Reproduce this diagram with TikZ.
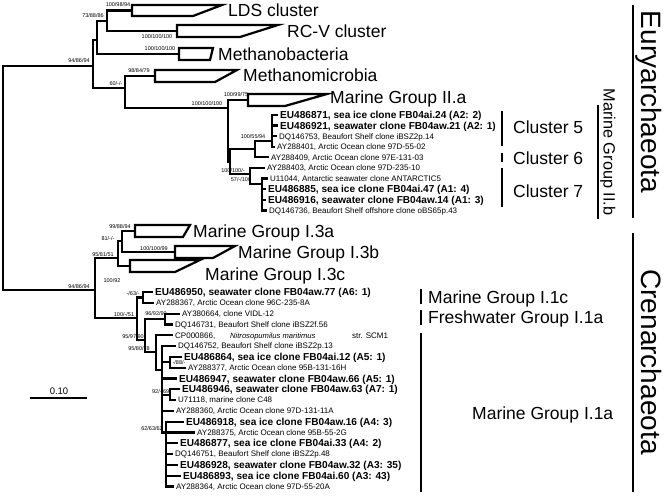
\documentclass[tikz,border=0pt]{standalone}
\usepackage{fontspec}
\setmainfont{Liberation Sans}
\newcommand\tleaf[6]{\draw[br] (#1,#3) -- (#2,#3); \node[#5] (#4) at ({#2+3},#3) {#6};}
\newcommand\tclade[5]{\draw[clade] (#1,#2) -- (#3,#2) -- (#4,#5) -- (#1,#5) -- cycle;}
\begin{document}
\begin{tikzpicture}[x=1pt,y=-1pt,
  br/.style={line width=2.2pt,line cap=rect},
  clade/.style={line width=2.2pt,line join=miter,fill=white},
  bs/.style={inner sep=0pt,font=\fontsize{5.5}{6}\selectfont,text height=4pt,text depth=0pt},
  sm/.style={anchor=west,inner sep=0pt,font=\fontsize{8}{9}\selectfont,text height=5.8pt,text depth=0pt},
  bd/.style={anchor=west,inner sep=0pt,font=\bfseries\fontsize{10.1}{11}\selectfont,text height=7.3pt,text depth=0pt},
  big/.style={anchor=west,inner sep=0pt,font=\fontsize{17.5}{19}\selectfont,text height=12.5pt,text depth=0pt},
  grp/.style={inner sep=0pt,rotate=-90,font=\fontsize{16.3}{18}\selectfont,text height=11.7pt,text depth=0pt},
  phyl/.style={inner sep=0pt,rotate=-90,font=\fontsize{28}{30}\selectfont,text height=20pt,text depth=0pt},
  bar/.style={line width=2.6pt},
]
\useasboundingbox (0,0) rectangle (666,497);
% ---------- Euryarchaeota ----------
\draw[br] (3,66) -- (3,290);
\draw[br] (3,66) -- (93,66);
\node[bs] (b1) at (79,61) {94/86/94};
\draw[br] (93,40) -- (93,88);
\draw[br] (93,40) -- (97,40);
\draw[br] (97,21) -- (97,54);
\draw[br] (97,21) -- (107,21);
\node[bs] (b2) at (93,16) {73/88/86};
\draw[br] (107,10.5) -- (107,31);
\draw[br] (107,10.5) -- (132,10.5);
\node[bs] (b3) at (118,5) {100/98/94};
\tclade{132}{5}{222}{193}{16}
\node[big] (lds) at (228,10) {LDS cluster};
\draw[br] (107,31) -- (177,31);
\node[bs] (b4) at (157,37) {100/100/100};
\tclade{177}{25}{278}{240}{37}
\node[big] (rcv) at (287,31) {RC-V cluster};
\draw[br] (97,54) -- (179,54);
\node[bs] (b5) at (160,49) {100/100/100};
\tclade{179}{48}{213}{210}{60}
\node[big] (mbac) at (218,54) {Methanobacteria};
\draw[br] (93,88) -- (125,88);
\node[bs] (b6) at (116,84) {60/-/-};
\draw[br] (125,76) -- (125,108);
\draw[br] (125,76) -- (155,76);
\node[bs] (b7) at (139,71) {98/84/79};
\tclade{155}{70}{237}{215}{82}
\node[big] (mmic) at (243,75) {Methanomicrobia};
\draw[br] (125,108) -- (228,108);
\node[bs] (b8) at (207,104) {100/100/100};
\draw[br] (228,100) -- (228,162);
\draw[br] (228,100) -- (248,100);
\node[bs] (b9) at (236,95) {100/99/75};
\tclade{248}{94}{327}{285}{106}
\node[big] (mg2a) at (330,97) {Marine Group II.a};
% MG II.b
\draw[br] (228,162) -- (230,162);
\draw[br] (230,149) -- (230,174);
\draw[br] (230,149) -- (255,149);
\draw[br] (255,141) -- (255,157.4);
\node[bs] (b10) at (253,137) {100/55/94};
\draw[br] (255,141) -- (272,141);
\draw[br] (272,115) -- (272,146.8);
\tleaf{272}{277}{115}{l1}{bd}{EU486871, sea ice clone FB04ai.24 (A2: 2)}
\tleaf{272}{277}{125.6}{l2}{bd}{EU486921, seawater clone FB04aw.21 (A2: 1)}
\tleaf{272}{276}{136.2}{l3}{sm}{DQ146753, Beaufort Shelf clone iBSZ2p.14}
\tleaf{272}{274}{146.8}{l4}{sm}{AY288401, Arctic Ocean clone 97D-55-02}
\tleaf{255}{268}{157.4}{l5}{sm}{AY288409, Arctic Ocean clone 97E-131-03}
\draw[br] (230,174) -- (250,174);
\node[bs] (b11) at (233,170) {100/100/-};
\draw[br] (250,168) -- (250,184);
\tleaf{250}{264}{168}{l6}{sm}{AY288403, Arctic Ocean clone 97D-235-10}
\draw[br] (250,184) -- (262,184);
\node[bs] (b12) at (241,180) {57/-/100};
\draw[br] (262,178.6) -- (262,210.4);
\tleaf{262}{267}{178.6}{l7}{sm}{U11044, Antarctic seawater clone ANTARCTIC5}
\tleaf{262}{265}{189.2}{l8}{bd}{EU486885, sea ice clone FB04ai.47 (A1: 4)}
\tleaf{262}{265}{199.8}{l9}{bd}{EU486916, seawater clone FB04aw.14 (A1: 3)}
\tleaf{262}{266}{210.4}{l10}{sm}{DQ146736, Beaufort Shelf offshore clone oBS65p.43}
\draw[bar] (502,111) -- (502,146);
\draw[bar] (502,153) -- (502,162);
\draw[bar] (502,168) -- (502,207);
\node[big] (c5) at (513,127) {Cluster 5};
\node[big] (c6) at (513,158) {Cluster 6};
\node[big] (c7) at (513,191) {Cluster 7};
\draw[bar] (598,105) -- (598,219);
\node[grp] (mg2b) at (609.5,152) {Marine Group II.b};
\draw[bar] (633,5) -- (633,218);
\node[phyl] (eury) at (651,102) {Euryarchaeota};
% ---------- Crenarchaeota ----------
\draw[br] (3,290) -- (95,290);
\node[bs] (b13) at (79,286) {94/86/94};
\draw[br] (95,258) -- (95,318);
\draw[br] (95,258) -- (118,258);
\node[bs] (b14) at (103,254) {95/81/51};
\draw[br] (118,241) -- (118,266);
\draw[br] (118,241) -- (122,241);
\node[bs] (b15) at (108,238) {81/-/-};
\draw[br] (122,231) -- (122,252);
\draw[br] (122,231) -- (135,231);
\node[bs] (b16) at (120,226) {99/88/94};
\tclade{135}{225}{190}{183}{237}
\node[big] (g3a) at (193,231) {Marine Group I.3a};
\draw[br] (122,252) -- (175,252);
\node[bs] (b17) at (154,248) {100/100/99};
\tclade{175}{246}{235}{213}{258}
\node[big] (g3b) at (238,252) {Marine Group I.3b};
\draw[br] (118,266) -- (130,266);
\node[bs] (b18) at (112,280) {100/92};
\tclade{130}{260}{200}{175}{272}
\node[big] (g3c) at (205,274) {Marine Group I.3c};
\draw[br] (95,318) -- (137,318);
\node[bs] (b19) at (124,314) {100/-/51};
\draw[br] (137,297.4) -- (137,340);
\draw[br] (137,297.4) -- (143,297.4);
\node[bs] (b20) at (133,293) {-/63/-};
\draw[br] (143,292) -- (143,302.8);
\tleaf{143}{152}{292}{c0}{bd}{EU486950, seawater clone FB04aw.77 (A6: 1)}
\tleaf{143}{153}{302.8}{c1}{sm}{AY288367, Arctic Ocean clone 96C-235-8A}
\draw[br] (137,340) -- (145,340);
\node[bs] (b21) at (133,336) {95/97/90};
\draw[br] (145,319) -- (145,352);
\draw[br] (145,319) -- (165,319);
\node[bs] (b22) at (156,313) {96/92/90};
\draw[br] (165,313.6) -- (165,324.4);
\tleaf{165}{179}{313.6}{c2}{sm}{AY380664, clone VIDL-12}
\tleaf{165}{172}{324.4}{c3}{sm}{DQ146731, Beaufort Shelf clone iBSZ2f.56}
\draw[br] (145,352) -- (156,352);
\node[bs] (b23) at (139,348) {95/80/78};
\draw[br] (156,335.2) -- (156,370);
\tleaf{156}{172}{335.2}{c4}{sm}{CP000866,}
\node[sm,font=\itshape\fontsize{7.6}{9}\selectfont] (c4b) at (230,335.2) {Nitrosopumilus maritimus};
\node[sm] (c4c) at (352,335.2) {str. SCM1};
\draw[br] (156,370) -- (162,370);
\draw[br] (162,346) -- (162,432.4);
\tleaf{162}{175}{346}{c5}{sm}{DQ146752, Beaufort Shelf clone iBSZ2p.13}
\draw[br] (162,362.2) -- (170,362.2);
\draw[br] (170,356.8) -- (170,367.6);
\tleaf{170}{181}{356.8}{c6}{bd}{EU486864, sea ice clone FB04ai.12 (A5: 1)}
\tleaf{170}{185}{367.6}{c7}{sm}{AY288377, Arctic Ocean clone 95B-131-16H}
\node[bs] (b24) at (179,362.4) {-/88/-};
\tleaf{162}{176}{378.4}{c8}{bd}{EU486947, seawater clone FB04aw.66 (A5: 1)}
\draw[br] (162,394.6) -- (170,394.6);
\draw[br] (170,389.2) -- (170,400);
\tleaf{170}{179}{389.2}{c9}{bd}{EU486946, seawater clone FB04aw.63 (A7: 1)}
\tleaf{170}{175}{400}{c10}{sm}{U71118, marine clone C48}
\node[bs,anchor=south east] (b25) at (169.5,393.2) {92/-/69};
\tleaf{162}{173}{410.8}{c11}{sm}{AY288360, Arctic Ocean clone 97D-131-11A}
\draw[br] (166,421.6) -- (166,486.4);
\node[bs] (b26) at (152,428) {62/63/62};
\tleaf{166}{183}{421.6}{c12}{bd}{EU486918, sea ice clone FB04aw.16 (A4: 3)}
\tleaf{162}{194}{432.4}{c13}{sm}{AY288375, Arctic Ocean clone 95B-55-2G}
\tleaf{166}{177}{443.2}{c14}{bd}{EU486877, sea ice clone FB04ai.33 (A4: 2)}
\tleaf{166}{172}{454}{c15}{sm}{DQ146751, Beaufort Shelf clone iBSZ2p.48}
\tleaf{166}{177}{464.8}{c16}{bd}{EU486928, seawater clone FB04aw.32 (A3: 35)}
\tleaf{166}{180}{475.6}{c17}{bd}{EU486893, sea ice clone FB04ai.60 (A3: 43)}
\tleaf{166}{173}{486.4}{c18}{sm}{AY288364, Arctic Ocean clone 97D-55-20A}
\draw[bar] (421,289) -- (421,304);
\draw[bar] (421,310) -- (421,325);
\draw[bar] (421,333) -- (421,492);
\node[big] (g1c) at (428,297) {Marine Group I.1c};
\node[big] (fw) at (428,317.5) {Freshwater Group I.1a};
\node[big] (g1a) at (472,413) {Marine Group I.1a};
\draw[bar] (633,233) -- (633,492);
\node[phyl] (cren) at (651,362) {Crenarchaeota};
% scale bar
\draw[bar] (30,398) coordinate (s1) -- (87,398) coordinate (s2);
\node[inner sep=0pt,font=\fontsize{9.5}{10}\selectfont] (sc) at (59,391) {0.10};
\end{tikzpicture}
\end{document}
